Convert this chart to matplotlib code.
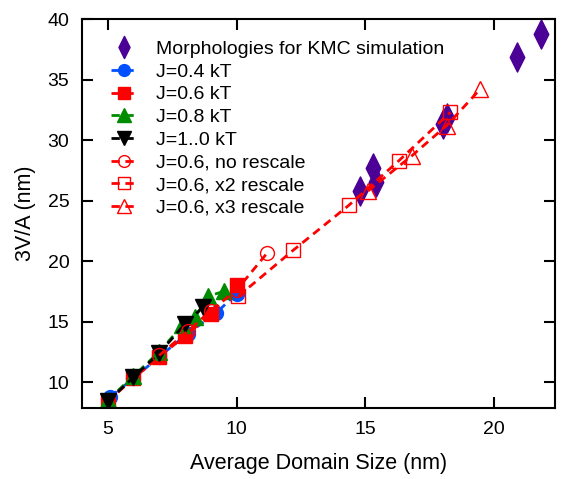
import numpy as np
import matplotlib
matplotlib.use('Agg')
from matplotlib import pyplot as plt
from matplotlib.path import Path

plt.rcParams['font.family'] = ['Liberation Sans', 'DejaVu Sans']

# Morphologies used in KMC
kmcX = [14.8, 15.3, 15.4, 18.0, 18.15, 20.9, 21.8]
kmcY = [25.8, 27.7, 26.5, 31.3, 31.8, 36.9, 38.8]

# filled series
j04X = [5.1, 6.0, 7.0, 8.1, 9.2, 10.0]
j04Y = [8.8, 10.3, 12.1, 14.0, 15.7, 17.3]
j06X = [5.0, 6.0, 7.0, 8.0, 9.0, 10.0]
j06Y = [8.4, 10.3, 12.1, 13.8, 15.6, 18.0]
j08X = [5.0, 6.0, 7.0, 7.9, 8.4, 8.9, 9.5]
j08Y = [8.5, 10.5, 12.5, 14.7, 15.4, 17.1, 17.5]
j10X = [5.0, 6.0, 7.0, 8.0, 8.7]
j10Y = [8.4, 10.4, 12.4, 14.8, 16.2]

# J=0.6 rescale series
noRescaleX = [7.0, 8.1, 9.0, 10.0, 11.2]
noRescaleY = [12.2, 14.2, 15.9, 17.6, 20.7]
x2X = [10.07, 12.2, 14.35, 16.3, 18.3]
x2Y = [17.1, 20.9, 24.6, 28.3, 32.3]
x3X = [15.1, 16.8, 18.15, 19.45]
x3Y = [25.8, 28.7, 31.2, 34.2]

labels = ['Morphologies for KMC simulation', 'J=0.4 kT', 'J=0.6 kT', 'J=0.8 kT',
          'J=1..0 kT', 'J=0.6, no rescale', 'J=0.6, x2 rescale', 'J=0.6, x3 rescale']

diamond = Path([(0, 1), (0.5, 0), (0, -1), (-0.5, 0), (0, 1)],
               [Path.MOVETO, Path.LINETO, Path.LINETO, Path.LINETO, Path.CLOSEPOLY])

fig = plt.figure(figsize=(5.69, 4.79), dpi=100)
ax = fig.add_axes([0.144, 0.148, 0.831, 0.812])

red = '#ff0000'
dash = (0, (3, 2))
lw = 2

ax.plot(kmcX, kmcY, linestyle='none', marker=diamond, markersize=21,
        color='#4b0096', label=labels[0])
ax.plot(j04X, j04Y, linestyle=dash, lw=lw, color='#0050ff', marker='o',
        markersize=10, label=labels[1])
ax.plot(j06X, j06Y, linestyle=dash, lw=lw, color=red, marker='s',
        markersize=10.5, label=labels[2])
ax.plot(j08X, j08Y, linestyle=dash, lw=lw, color='#008c00', marker='^',
        markersize=12, label=labels[3])
ax.plot(j10X, j10Y, linestyle=dash, lw=lw, color='black', marker='v',
        markersize=12, label=labels[4])
ax.plot(noRescaleX, noRescaleY, linestyle=dash, lw=lw, color=red, marker='o',
        markersize=10, markerfacecolor='none', label=labels[5])
ax.plot(x2X, x2Y, linestyle=dash, lw=lw, color=red, marker='s',
        markersize=10.5, markerfacecolor='none', label=labels[6])
ax.plot(x3X, x3Y, linestyle=dash, lw=lw, color=red, marker='^',
        markersize=12, markerfacecolor='none', label=labels[7])

ax.set_xlim(4.0, 22.35)
ax.set_ylim(7.85, 40)
ax.set_xticks([5, 10, 15, 20])
ax.set_yticks([10, 15, 20, 25, 30, 35, 40])
ax.tick_params(direction='in', length=8, width=1.5, top=True, right=True,
               labelsize=14, pad=9)
for s in ax.spines.values():
    s.set_linewidth(1.5)
ax.set_xlabel('Average Domain Size (nm)', fontsize=15.5, labelpad=11)
ax.set_ylabel('3V/A (nm)', fontsize=15.5, labelpad=8)

leg = ax.legend(loc='upper left', bbox_to_anchor=(0.045, 0.965), frameon=False,
                fontsize=14, labelspacing=0.26, handlelength=1.35,
                handletextpad=0.95, borderaxespad=0)
for h in leg.legend_handles:
    h.set_markersize(h.get_markersize() * 0.85)
leg.legend_handles[0].set_markersize(16)

plt.savefig('out.png', dpi=100)
